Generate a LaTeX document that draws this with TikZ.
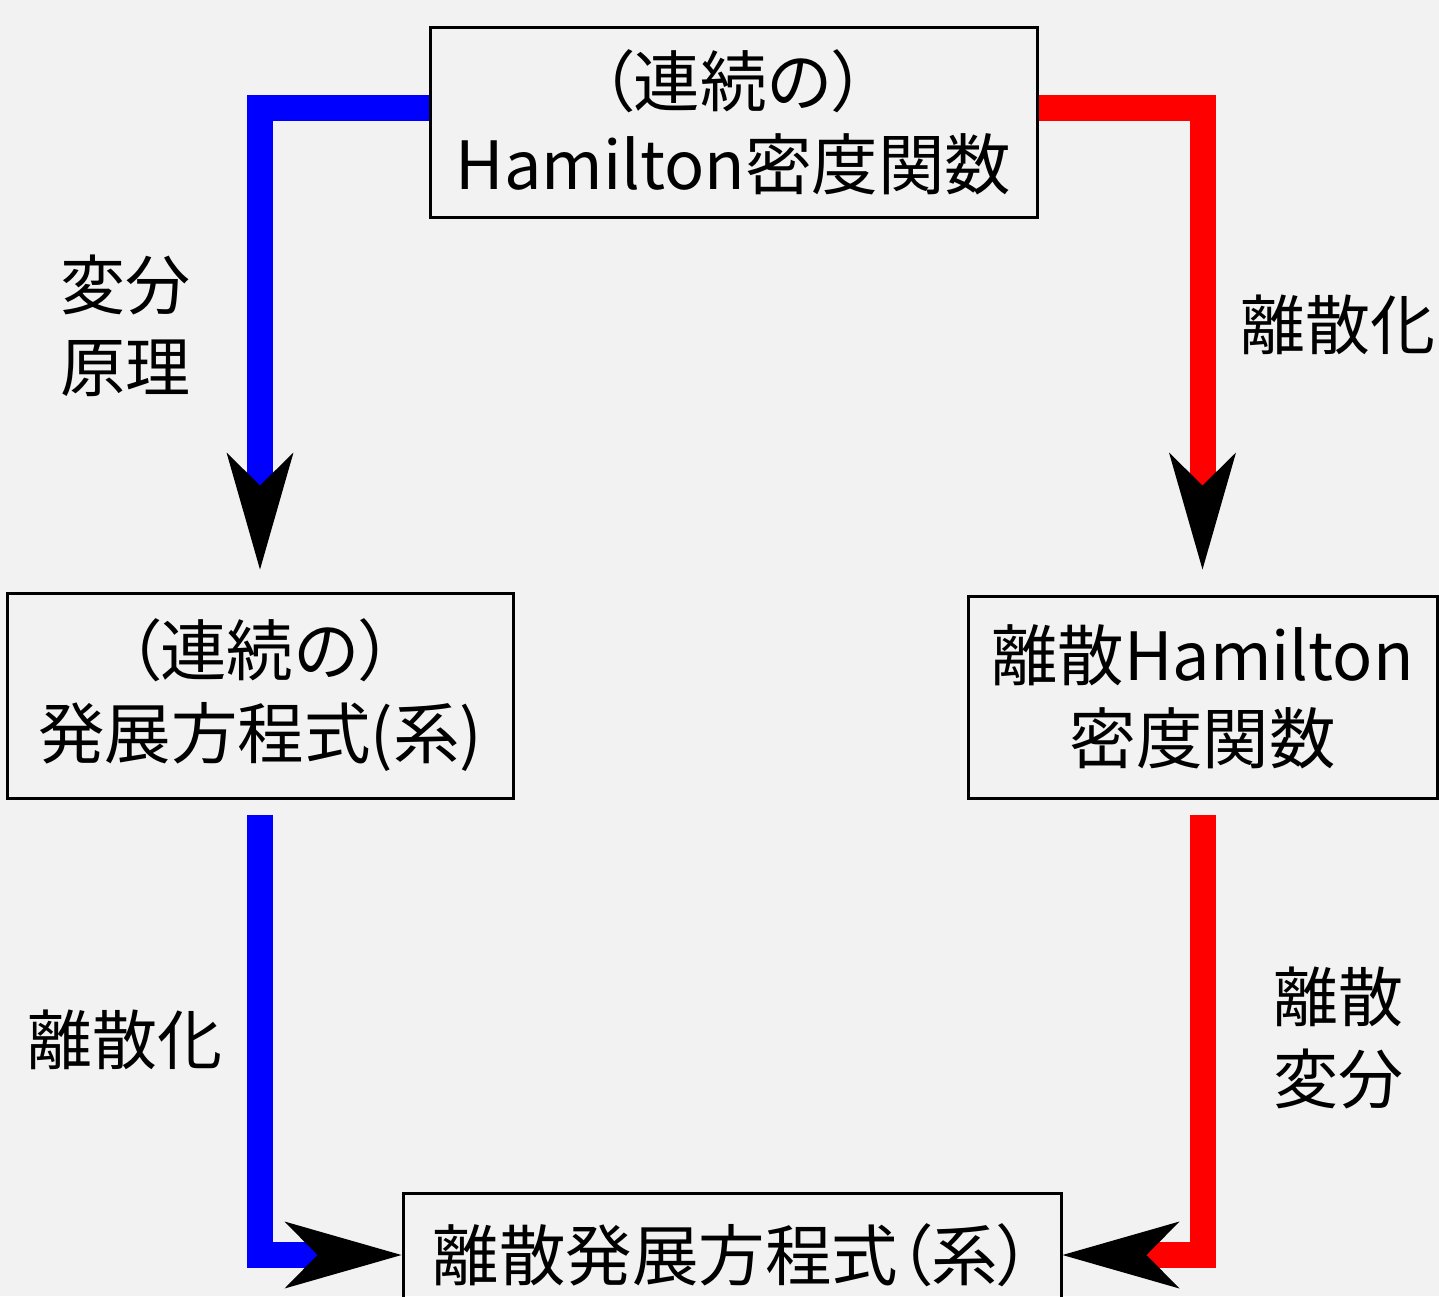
\documentclass[tikz,border=0pt]{standalone}
\usepackage{fontspec}
\setmainfont{Noto Sans CJK JP}
\newfontfamily\pfont[RawFeature=+palt]{Noto Sans CJK JP}
\usetikzlibrary{arrows.meta,calc}
\definecolor{bg}{HTML}{F2F2F2}
\begin{document}
\begin{tikzpicture}[x=1pt,y=-1pt,
  box/.style={draw=black,line width=3pt,align=center,inner sep=0pt,font=\fontsize{66.5}{83}\selectfont},
  lbl/.style={align=center,inner sep=0pt,font=\fontsize{65}{82}\selectfont},
  conn/.style={line width=26pt,-{Stealth[length=117pt,width=67pt,inset=33pt,black,line width=0pt]}},
]
\fill[bg] (0,0) rectangle (1439,1296);
\useasboundingbox (0,0) rectangle (1439,1296);

\node[box,minimum width=607pt,minimum height=190pt] (top) at (733.5,122) {{\pfont（}連続の{\pfont）}\\Hamilton密度関数};
\node[box,minimum width=506pt,minimum height=205pt] (lft) at (260,695.5) {{\pfont（}連続の{\pfont）}\\発展方程式(系)};
\node[box,minimum width=469pt,minimum height=202pt] (rgt) at (1202.5,697) {離散Hamilton\\密度関数};
\node[box,minimum width=658pt,minimum height=124pt] (bot) at (732,1255) {離散発展方程式{\pfont（}系{\pfont）}};

\coordinate (tl) at ($(top.west)+(0,-14)$);
\coordinate (tr) at ($(top.east)+(0,-14)$);

\draw[conn,blue,shorten >=22pt] (tl) -| (lft.north);
\draw[conn,red,shorten >=25pt] (tr) -| (rgt.north);
\draw[conn,blue,shorten <=15pt] (lft.south) |- (bot.west);
\draw[conn,red,shorten <=15pt] (rgt.south) |- (bot.east);

\node[lbl] (l1) at (125,326) {変分\\原理};
\node[lbl] (l2) at (1338,325) {離散化};
\node[lbl] (l3) at (125,1040) {離散化};
\node[lbl] (l4) at (1338,1038) {離散\\変分};
\end{tikzpicture}
\end{document}
